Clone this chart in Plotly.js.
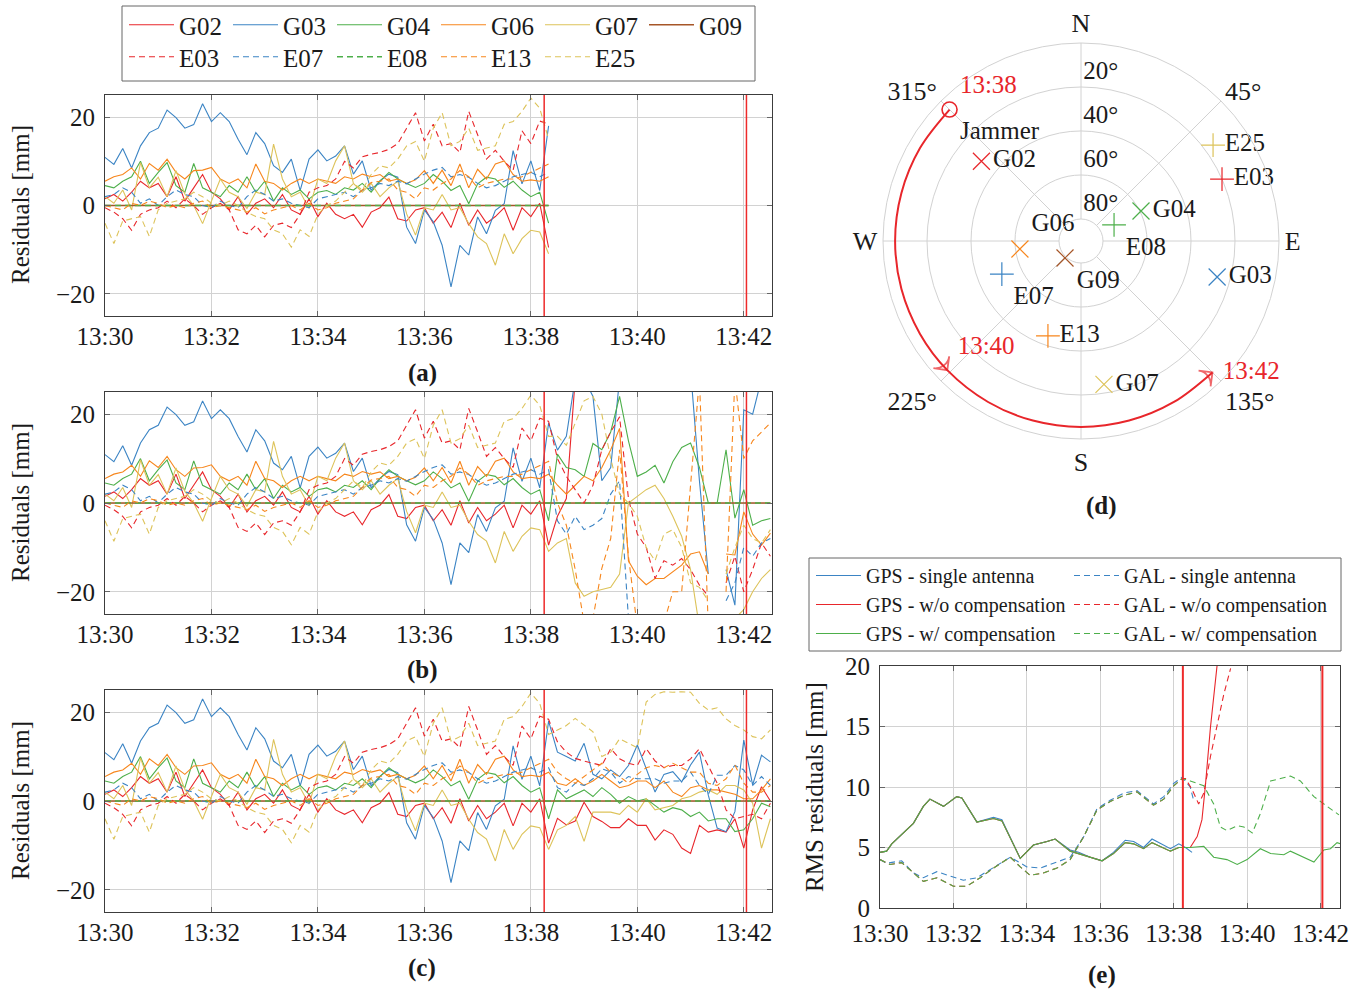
<!DOCTYPE html>
<html><head><meta charset="utf-8">
<script src="https://cdn.plot.ly/plotly-3.0.1.min.js"></script>
<style>html,body{margin:0;padding:0;background:#fff}#chart{width:1369px;height:992px}</style>
</head><body><div id="chart"></div>
<script>
// ---------------- DATA ----------------
const timeTickVals = [0, 2, 4, 6, 8, 10, 12];                 // minutes after 13:30
const timeTickText = ['13:30','13:32','13:34','13:36','13:38','13:40','13:42'];
const jamEvents = [8.25, 12.05];                              // jammer on / off (minutes after 13:30)

const tPreSec  = [0,10,20,30,40,50,60,70,80,90,100,110,120,130,140,150,160,170,180,190,200,210,220,230,240,250,260,270,280,290,300,310,320,330,340,350,360,370,380,390,400,410,420,430,440,450,460,470,480,490,500];
const tPostSec = [510,520,530,540,550,560,570,580,590,600,610,620,630,640,650,660,670,680,690,700,710,720,730,740,750];

const satNames = ['G02','G03','G04','G06','G07','G09','E03','E07','E08','E13','E25'];

// residuals before the jammer (shared by panels a, b, c) [mm]
const preG02 = [1.5,2.5,1.0,3.0,5.5,4.0,5.0,2.0,6.5,1.0,4.0,7.0,3.0,1.5,-1.0,2.0,-2.0,0.5,1.5,-0.5,2.5,-1.0,-2.0,1.5,-2.5,0.5,-2.0,-3.0,-2.0,-4.9,-1.5,-0.5,1.9,-3.0,-3.5,-1.0,-0.5,-4.0,-1.5,-5.0,0.5,-4.5,-1.0,-4.0,-2.5,-0.5,-5.6,-0.5,-2.5,0.5,-9.5];
const preG03 = [10.9,9.3,12.9,8.5,13.5,16.5,17.5,21.6,19.9,17.5,18.3,23.0,19.0,21.0,19.0,15.0,11.5,16.5,14.0,9.0,7.5,10.5,3.4,10.5,12.6,10.1,11.2,13.5,7.1,10.1,3.4,5.6,7.1,6.4,-4.9,-8.6,-1.0,-3.7,-9.0,-18.4,-9.0,-11.2,-2.6,-6.4,-1.1,0.4,12.4,4.9,10.1,3.4,18.0];
const preG04 = [4.5,4.0,5.5,6.5,10.0,5.0,7.5,9.7,4.5,3.0,9.5,4.0,3.0,2.0,4.5,3.0,6.5,3.0,5.5,1.0,4.0,2.5,3.5,1.5,3.0,3.4,2.5,4.0,3.5,5.0,3.0,5.5,7.5,6.0,5.0,4.1,5.0,7.0,5.5,3.4,4.5,0.4,4.9,6.4,6.0,4.1,5.5,3.5,2.0,3.0,-4.0];
const preG06 = [5.5,6.5,7.0,8.5,6.0,9.5,8.0,10.5,7.5,6.0,7.9,8.0,8.6,6.0,5.0,6.0,4.0,9.4,5.5,5.0,3.5,5.0,6.0,5.0,6.0,5.5,5.0,6.5,6.0,7.1,6.5,7.0,5.5,6.0,5.0,5.8,7.9,5.0,8.0,4.5,9.4,4.0,8.2,6.0,9.4,10.1,7.0,5.5,5.8,5.5,6.5];
const preG07 = [2.0,0.5,3.5,-1.0,9.7,4.0,6.4,2.0,7.9,2.6,0.0,-4.1,1.0,6.0,3.0,2.0,-0.7,3.0,2.5,13.9,6.0,2.0,3.0,-0.7,6.0,5.0,10.1,13.5,5.0,3.0,5.0,2.0,4.0,5.5,-1.9,-6.7,-0.5,-1.0,2.5,-1.0,-0.5,-4.1,-7.1,-8.6,-13.5,-6.4,-10.9,-7.5,-5.6,-6.0,-10.9];
const preG09 = [0,0,0,0,0,0,0,0,0,0,0,0,0,0,0,0,0,0,0,0,0,0,0,0,0,0,0,0,0,0,0,0,0,0,0,0,0,0,0,0,0,0,0,0,0,0,0,0,0,0,0];
const preE03 = [-0.5,-1.5,-3.0,-5.6,-2.0,-1.0,-0.5,1.0,-0.5,1.5,0.0,-2.0,-0.5,0.5,-1.0,-5.5,-6.4,-4.5,-7.1,-4.5,-4.0,-5.0,-2.0,3.0,4.0,4.5,6.0,10.0,8.5,11.0,11.6,12.0,12.7,14.0,17.5,21.0,14.6,18.4,13.5,14.0,12.0,21.3,16.0,10.5,12.5,10.0,8.0,16.9,14.0,19.1,18.4];
const preE07 = [2.0,2.5,4.0,3.0,0.5,1.5,0.0,2.0,3.5,2.5,2.0,0.0,-0.5,1.0,0.0,-0.5,2.0,3.5,2.5,1.0,1.5,0.5,0.0,-0.5,1.5,2.0,2.5,3.0,2.0,3.5,4.0,5.0,4.5,5.5,4.9,6.0,7.1,8.0,8.6,6.5,7.0,6.4,5.0,4.0,4.5,5.5,6.5,7.0,7.5,6.5,7.5];
const preE08 = [0,0,0,0,0,0,0,0,0,0,0,0,0,0,0,0,0,0,0,0,0,0,0,0,0,0,0,0,0,0,0,0,0,0,0,0,0,0,0,0,0,0,0,0,0,0,0,0,0,0,0];
const preE13 = [0.0,-0.5,-1.0,0.5,0.0,1.0,0.5,-0.5,0.0,-0.5,0.5,1.0,-0.5,0.0,-0.5,-1.0,-1.5,-0.5,-1.9,-1.0,-0.5,0.0,-1.0,0.5,-1.0,-0.5,0.5,1.0,1.5,3.5,5.2,5.5,6.0,3.5,3.0,1.5,4.0,3.5,5.0,6.0,7.9,6.5,4.0,5.0,5.5,6.0,6.0,6.5,7.5,8.5,9.4];
const preE25 = [-4.0,-8.6,-3.5,-3.0,-2.5,-7.0,-1.0,0.5,1.0,1.5,3.0,2.0,0.5,0.0,1.0,0.0,-1.5,-2.5,-3.0,-5.5,-6.4,-9.4,-5.5,-7.0,-2.0,0.0,1.0,3.0,5.0,3.5,7.0,9.0,8.5,10.5,13.5,14.5,10.0,17.5,21.0,13.5,14.5,17.5,12.5,13.0,13.5,18.4,19.0,21.3,24.3,22.0,15.0];

// (b) without compensation, after jammer on
const bG02 = [-3,1,28,40,40,40,40,40,40,40,40,40,40,40,40,40,40,40,null,40,40,40,40,40,40];
const bG03 = [11.9,15,28,28,24,5,8,28,30,30,30,30,30,30,30,30,5,-16,null,-15,-23,21,20,28,28];
const bG04 = [11,8,7.5,6,13.4,12,16,24,14,6,7,8.5,4.5,9.3,12.5,13.5,8,0,0,12,-3.4,3,-5,-4,-3.5];
const bG06 = [4,2,4,6,5,8,12,16.8,-13,-16.5,-18.4,-17,-17,-15.5,-14,-11.5,-11,-16,null,-11.5,-11.7,-2,-7,-9.5,-6.8];
const bG07 = [-9,-8,-18,-21,-20,-19.5,-19,-16,0,1.5,3,4,1,-3,-7.5,-15,-28,-30,null,-28,-26,-24,-20,-17,-15];
const bG09 = [0,0,0,0,0,0,0,0,0,0,0,0,0,0,0,0,0,0,0,0,0,0,0,0,0];
const bE03 = [10,6,3,0,4,12,16,19.4,1,-7,-10,-17,-13,-14,-12.5,-15,-18.5,-21,null,-18,-12,-20,-15,-9,-12];
const bE07 = [-4,-7,-3,-6,-5,-3.5,2,5,-26,-30,-30,-30,-30,-30,-30,-30,-30,-30,null,-22,-18,-10,-12,-9,-8];
const bE08 = [0,0,0,0,0,0,0,0,0,0,0,0,0,0,0,0,0,0,0,0,0,0,0,0,0];
const bE13 = [0,-5,-15,-27,-26,-14.7,-8,12,-12,-28,-28,-28,-27,-20,-20,5,28,-28,null,-20,28,10,14,16,18];
const bE25 = [15,13,18,23,24,20,10,2,0,-3,-10,-13,-7,-6,-10,-18,-19,-22,null,-16,-10,-5,-8,-9,-6];

// (c) with compensation, after jammer on
const cG02 = [-3.9,-5.4,-4.5,-0.3,-3.5,-4.6,-6,-6,-4,-5.5,-5.5,-8.8,-6.5,-7.5,-10.6,-11.8,-5.5,-7,-6.5,-7,-4,-10.6,-2,3.2,0];
const cG03 = [11,10,9,13,6,5,7,5.5,8,12.6,7.5,2,6,6.6,4.3,8.1,11,1.3,-6.1,-6.9,-2.4,13.7,3.6,10.3,8.8];
const cG04 = [2.5,0.5,1.5,2.5,1,3,1.5,-0.5,1,0,0.5,-1,-2.5,-1.5,-2,-3.5,-2.5,-4.5,-4,-4,-6.9,-6.5,-4,-0.5,-1.3];
const cG06 = [4,3.5,5,3.5,4.5,6,4.5,3,3.5,4.5,4.5,3,4.5,2,1,3,3.5,2.5,2.5,2,1.5,0.5,0.5,2.5,5];
const cG07 = [-6.5,-5.5,-3.5,-9.1,-2.5,-2.5,-2.5,-3,-1,-2.5,0.5,-2,-1.5,-1,0.5,1,2,2.5,1.5,3.5,3.5,2.5,-0.5,-10.6,-4];
const cG09 = [0,0,0,0,0,0,0,0,0,0,0,0,0,0,0,0,0,0,0,0,0,0,0,0,0];
const cE03 = [13.3,11,9.6,9,8.5,8,11.8,9.5,8.5,8,11.8,9,7.5,8,8,9.5,11.8,8,4,-2,-4,-3.5,-3,-4,-0.5];
const cE07 = [3,2,4,3.5,5,7.3,6.5,4,5.5,5,5,5,4,4.5,4.5,6.5,3.5,1.5,5.8,5.8,8,7,3.5,5.5,3.5];
const cE08 = [0,0,0,0,0,0,0,0,0,0,0,0,0,0,0,0,0,0,0,0,0,0,0,0,0];
const cE13 = [6.5,5,4,5.5,7,8.5,6.5,5.5,4,6,7.5,8,7.5,8.5,7.5,6.5,6.5,4,3.5,5,8.1,4,2,2,3.5];
const cE25 = [16,17,18.6,17,15.6,10,11,14,13,12,22.3,24,24.6,24.5,24.6,24.5,22,20.5,21,18.5,17,16,14.5,14,16];

// (d) skyplot: azimuth / elevation [deg]
const satAz = [308.7,104.8,63.4,262.5,170.9,223.3,66.3,247.3,64.1,199.2,54.0];
const satEl = [32,26,59.5,62,24,79.4,20,51,73.3,44.3,15.8];
const jamAz = [315,300,285,270,255,240,226,210,195,180,165,150,135];
const jamEl = [5.5,5.5,5.5,5.5,5.5,5.5,5.5,5.5,5.5,5.5,5.5,5.5,5.5];
const jamLabelIdx = [0, 6, 12];
const jamLabels = ['13:38','13:40','13:42'];
const elevRings = [80, 60, 40, 20];

// (e) RMS residuals [mm], time in minutes after 13:30
const tGpsSingle = [0,0.18,0.32,0.64,0.91,1.18,1.36,1.73,2.09,2.23,2.64,3.09,3.32,3.82,4.18,4.55,4.77,5.18,5.41,5.73,6.05,6.36,6.68,6.91,7.18,7.41,7.64,7.91,8.14,8.32,8.5];
const rmsGpsSingle = [4.6,4.7,5.3,6.2,7.0,8.4,9.0,8.4,9.2,9.1,7.1,7.5,7.3,4.1,5.2,5.5,5.7,4.8,4.6,4.2,3.9,4.6,5.6,5.5,5.0,5.7,5.3,4.9,5.3,5.0,4.6];
const tGpsWo = [0,0.18,0.32,0.64,0.91,1.18,1.36,1.73,2.09,2.23,2.64,3.09,3.32,3.82,4.18,4.55,4.77,5.18,5.41,5.73,6.05,6.36,6.68,6.91,7.18,7.41,7.64,7.91,8.14,8.32,8.45,8.64,8.77,8.86,9.0,9.18,9.3];
const rmsGpsWo = [4.6,4.7,5.3,6.2,7.0,8.4,9.0,8.4,9.2,9.1,7.1,7.4,7.2,4.1,5.2,5.5,5.7,4.7,4.5,4.2,3.9,4.5,5.4,5.3,4.9,5.4,5.1,4.7,5.0,5.0,5.0,5.9,7.3,10.0,14.9,20.0,23.0];
const tGpsW = [0,0.18,0.32,0.64,0.91,1.18,1.36,1.73,2.09,2.23,2.64,3.09,3.32,3.82,4.18,4.55,4.77,5.18,5.41,5.73,6.05,6.36,6.68,6.91,7.18,7.41,7.64,7.91,8.14,8.32,8.45,8.82,9.09,9.45,9.73,10.0,10.36,10.64,11.0,11.18,11.55,11.82,12.09,12.27,12.45,12.55];
const rmsGpsW = [4.6,4.7,5.3,6.2,7.0,8.4,9.0,8.4,9.2,9.1,7.1,7.4,7.2,4.1,5.2,5.5,5.7,4.7,4.5,4.2,3.9,4.5,5.4,5.3,4.9,5.4,5.1,4.7,5.0,5.0,5.0,5.1,4.2,4.0,3.6,4.0,4.9,4.5,4.4,4.7,4.2,3.8,4.8,4.9,5.4,5.3];
const tGalSingle = [0,0.18,0.59,0.91,1.18,1.55,1.95,2.27,2.64,3.0,3.55,4.0,4.36,4.82,5.18,5.55,5.91,6.27,6.64,7.0,7.45,7.73,8.0,8.23,8.45,8.55];
const rmsGalSingle = [4.0,3.7,3.9,2.9,2.5,3.0,2.6,2.3,2.5,3.2,4.2,3.4,3.3,3.8,4.2,5.9,8.2,8.9,9.5,9.7,8.6,9.2,10.3,10.8,10.0,8.8];
const tGalWo = [0,0.27,0.59,0.91,1.18,1.55,2.0,2.36,2.73,3.09,3.55,3.82,4.09,4.45,4.82,5.18,5.55,5.91,6.27,6.64,7.0,7.45,7.73,8.0,8.23,8.32,8.5,8.68,8.82,9.0,9.18,9.36,9.55];
const rmsGalWo = [4.0,3.6,3.75,2.9,2.2,2.5,1.8,1.8,2.5,3.3,4.2,3.4,2.7,2.9,3.3,4.0,5.9,8.1,8.8,9.3,9.6,8.5,9.0,10.1,10.7,10.7,9.8,8.6,9.5,12.5,15.2,17.6,19.8];
const tGalW = [0,0.27,0.59,0.91,1.18,1.55,2.0,2.36,2.73,3.09,3.55,3.82,4.09,4.45,4.82,5.18,5.55,5.91,6.27,6.64,7.0,7.45,7.73,8.0,8.23,8.45,8.82,9.09,9.27,9.45,9.73,9.91,10.14,10.36,10.64,10.91,11.18,11.45,11.82,12.18,12.5];
const rmsGalW = [4.0,3.6,3.75,2.9,2.2,2.5,1.8,1.8,2.5,3.3,4.2,3.4,2.7,2.9,3.3,4.0,5.9,8.1,8.8,9.3,9.6,8.5,9.0,10.1,10.7,10.5,10.1,8.6,6.7,6.4,6.8,6.7,6.2,7.8,10.5,10.7,10.9,10.5,9.2,8.4,7.7];

// ---------------- STYLE ----------------
const W = 1369, H = 992;
const FONT = 'Liberation Serif, Times New Roman, serif';
const px = v => v / W;
const py = v => 1 - v / H;
const RED = '#e8262b', BLUE = '#3b84c4', GREEN = '#4daf4a', ORANGE = '#f7861c', KHAKI = '#ddc35a', BROWN = '#a65628';
const satColors = [RED, BLUE, GREEN, ORANGE, KHAKI, BROWN, RED, BLUE, GREEN, ORANGE, KHAKI];
const DASH = '6px,4px';
const CLEAR = 'rgba(0,0,0,0)';

const preSeries = [preG02,preG03,preG04,preG06,preG07,preG09,preE03,preE07,preE08,preE13,preE25];
const postB = [bG02,bG03,bG04,bG06,bG07,bG09,bE03,bE07,bE08,bE13,bE25];
const postC = [cG02,cG03,cG04,cG06,cG07,cG09,cE03,cE07,cE08,cE13,cE25];

const tPre = tPreSec.map(s => s / 60);
const tAll = tPreSec.concat(tPostSec).map(s => s / 60);

const traces = [];
const panels = [
  {xa: 'x', ya: 'y', x: tPre, ys: preSeries, legend: true},
  {xa: 'x2', ya: 'y2', x: tAll, ys: preSeries.map((p, i) => p.concat(postB[i])), legend: false},
  {xa: 'x3', ya: 'y3', x: tAll, ys: preSeries.map((p, i) => p.concat(postC[i])), legend: false}
];
panels.forEach(p => {
  satNames.forEach((name, i) => {
    const isGal = name[0] === 'E';
    const isRef = name === 'G09' || name === 'E08';
    traces.push({
      type: 'scatter', mode: 'lines', x: p.x, y: p.ys[i], name: name,
      xaxis: p.xa, yaxis: p.ya, connectgaps: false,
      line: {color: satColors[i], width: isRef ? 1.6 : 1.1, dash: isGal ? DASH : 'solid'},
      showlegend: p.legend, legend: isGal ? 'legend2' : 'legend',
      hoverinfo: 'skip'
    });
  });
});

// (e) RMS
const rmsDefs = [
  {x: tGpsSingle, y: rmsGpsSingle, name: 'GPS - single antenna', c: BLUE, d: 'solid', lg: 'legend3'},
  {x: tGpsWo, y: rmsGpsWo, name: 'GPS - w/o compensation', c: RED, d: 'solid', lg: 'legend3'},
  {x: tGpsW, y: rmsGpsW, name: 'GPS - w/ compensation', c: GREEN, d: 'solid', lg: 'legend3'},
  {x: tGalSingle, y: rmsGalSingle, name: 'GAL - single antenna', c: BLUE, d: DASH, lg: 'legend4'},
  {x: tGalWo, y: rmsGalWo, name: 'GAL - w/o compensation', c: RED, d: DASH, lg: 'legend4'},
  {x: tGalW, y: rmsGalW, name: 'GAL - w/ compensation', c: GREEN, d: DASH, lg: 'legend4'}
];
rmsDefs.forEach(r => traces.push({
  type: 'scatter', mode: 'lines', x: r.x, y: r.y, name: r.name, xaxis: 'x4', yaxis: 'y4',
  line: {color: r.c, width: 1.1, dash: r.d}, legend: r.lg, hoverinfo: 'skip'
}));

// (d) skyplot
const satR = satEl.map(e => 90 - e);
const satSymbols = satNames.map(n => n[0] === 'G' ? 'x-thin-open' : 'cross-thin-open');
const satTextPos = ['middle right','middle right','middle right','top right','middle right','bottom right','middle right','bottom right','bottom right','middle right','middle right'];
traces.push({
  type: 'scatterpolar', subplot: 'polar', mode: 'markers+text', r: satR, theta: satAz, text: satNames,
  textposition: satTextPos, textfont: {family: FONT, size: 25, color: '#1a1a1a'}, cliponaxis: false,
  marker: {symbol: satSymbols, size: 17, color: satColors, line: {color: satColors, width: 1.2}},
  showlegend: false, hoverinfo: 'skip'
});
// elevation ring labels, written just above each ring on the north spoke
traces.push({
  type: 'scatterpolar', subplot: 'polar', mode: 'markers+text',
  r: elevRings.map(e => 90 - e), theta: elevRings.map(() => 0), text: elevRings.map(e => e + '°'),
  textposition: 'top right', cliponaxis: false, marker: {size: 2, color: CLEAR},
  textfont: {family: FONT, size: 25, color: '#1a1a1a'}, showlegend: false, hoverinfo: 'skip'
});
const jamR = jamEl.map(e => 90 - e);
const isArrow = jamAz.map((a, i) => jamLabelIdx.indexOf(i) > 0);
traces.push({
  type: 'scatterpolar', subplot: 'polar', mode: 'lines+markers', r: jamR, theta: jamAz,
  line: {color: RED, width: 2, shape: 'spline'}, cliponaxis: false,
  marker: {symbol: 'arrow-wide-open', size: isArrow.map(b => b ? 14 : 0), angleref: 'previous', color: RED, line: {color: RED, width: 1.8}},
  showlegend: false, hoverinfo: 'skip'
});
// jammer position at 13:38 (open circle) + time labels
traces.push({
  type: 'scatterpolar', subplot: 'polar', mode: 'markers+text',
  r: jamLabelIdx.map(i => jamR[i]), theta: jamLabelIdx.map(i => jamAz[i]), text: jamLabels,
  textposition: ['top right', 'top right', 'middle right'], cliponaxis: false,
  marker: {symbol: 'circle-open', size: 15, color: [RED, CLEAR, CLEAR], line: {color: [RED, CLEAR, CLEAR], width: 1.6}},
  textfont: {family: FONT, size: 25, color: RED}, showlegend: false, hoverinfo: 'skip'
});
traces.push({
  type: 'scatterpolar', subplot: 'polar', mode: 'markers+text',
  r: [jamR[0]], theta: [jamAz[0]], text: ['Jammer'], textposition: ['bottom right'], cliponaxis: false,
  marker: {size: 15, color: CLEAR},
  textfont: {family: FONT, size: 25, color: '#1a1a1a'}, showlegend: false, hoverinfo: 'skip'
});

// ---------------- LAYOUT ----------------
const tickFont = {family: FONT, size: 25, color: '#1a1a1a'};
function xAxis(dom, anchor, standoff) {
  return {domain: dom, anchor: anchor, range: [0, 12.53], tickmode: 'array', tickvals: timeTickVals, ticktext: timeTickText,
    showgrid: true, gridcolor: '#d2d2d2', gridwidth: 1, zeroline: false, showline: true, linecolor: '#3c3c3c', linewidth: 1,
    mirror: 'ticks', ticks: 'inside', ticklen: 5, tickcolor: '#666', tickfont: tickFont, ticklabelstandoff: standoff, fixedrange: true};
}
function yAxis(dom, anchor, range, vals) {
  return {domain: dom, anchor: anchor, range: range, tickmode: 'array', tickvals: vals,
    showgrid: true, gridcolor: '#d2d2d2', gridwidth: 1, zeroline: false, showline: true, linecolor: '#3c3c3c', linewidth: 1,
    mirror: 'ticks', ticks: 'inside', ticklen: 5, tickcolor: '#666', tickfont: tickFont, ticklabelstandoff: 4, fixedrange: true};
}
const leftX = [px(105), px(772)];
const shapes = [];
[['x','y'],['x2','y2'],['x3','y3'],['x4','y4']].forEach(([xa, ya]) => {
  jamEvents.forEach(t => shapes.push({type: 'line', xref: xa, yref: ya + ' domain', x0: t, x1: t, y0: 0, y1: 1,
    line: {color: '#ee2a2a', width: xa === 'x4' ? 2 : 1.5}}));
});
shapes.push({type: 'rect', xref: 'paper', yref: 'paper', x0: px(122), x1: px(755), y0: py(81), y1: py(6), line: {color: '#666', width: 1}});
shapes.push({type: 'rect', xref: 'paper', yref: 'paper', x0: px(809), x1: px(1341), y0: py(651), y1: py(558), line: {color: '#666', width: 1}});

const annFont = {family: FONT, size: 25, color: '#1a1a1a'};
const annotations = [
  {text: '<b>(a)</b>', x: px(422), y: py(373)},
  {text: '<b>(b)</b>', x: px(422), y: py(670)},
  {text: '<b>(c)</b>', x: px(422), y: py(968)},
  {text: '<b>(d)</b>', x: px(1101), y: py(506)},
  {text: '<b>(e)</b>', x: px(1102), y: py(975)},
  {text: 'Residuals [mm]', x: px(20), y: py(205), textangle: -90},
  {text: 'Residuals [mm]', x: px(20), y: py(503), textangle: -90},
  {text: 'Residuals [mm]', x: px(20), y: py(801), textangle: -90},
  {text: 'RMS residuals [mm]', x: px(814), y: py(787), textangle: -90}
].map(a => Object.assign({xref: 'paper', yref: 'paper', showarrow: false, font: annFont, xanchor: 'center', yanchor: 'middle'}, a));

const legBase = {font: {family: FONT, size: 25, color: '#1a1a1a'}, bgcolor: 'rgba(0,0,0,0)', borderwidth: 0, itemwidth: 45,
  traceorder: 'normal', itemclick: false, itemdoubleclick: false, xanchor: 'left', yanchor: 'top'};
const layout = {
  width: W, height: H, margin: {l: 0, r: 0, t: 0, b: 0}, paper_bgcolor: '#fff', plot_bgcolor: '#fff',
  font: {family: FONT, color: '#1a1a1a'},
  xaxis: xAxis(leftX, 'y', -2), yaxis: yAxis([py(316), py(95)], 'x', [-25, 25], [-20, 0, 20]),
  xaxis2: xAxis(leftX, 'y2', -2), yaxis2: yAxis([py(614), py(392)], 'x2', [-25, 25], [-20, 0, 20]),
  xaxis3: xAxis(leftX, 'y3', -2), yaxis3: yAxis([py(912), py(690)], 'x3', [-25, 25], [-20, 0, 20]),
  xaxis4: xAxis([px(880), px(1340)], 'y4', 3), yaxis4: yAxis([py(908), py(666)], 'x4', [0, 20], [0, 5, 10, 15, 20]),
  polar: {
    domain: {x: [px(883), px(1279)], y: [py(439), py(43)]}, hole: 1 / 9, bgcolor: '#fff',
    angularaxis: {direction: 'clockwise', rotation: 90, tickmode: 'array', tickvals: [0,45,90,135,180,225,270,315],
      ticktext: ['N','45°','E','135°','S','225°','W','315°'], ticks: '', showline: true, linecolor: '#d2d2d2', linewidth: 1,
      gridcolor: '#d2d2d2', tickfont: {family: FONT, size: 26, color: '#1a1a1a'}},
    radialaxis: {range: [10, 90], tickmode: 'array', tickvals: elevRings.map(e => 90 - e), showticklabels: false, angle: 90,
      showline: false, ticks: '', gridcolor: '#d2d2d2'}
  },
  legend: Object.assign({}, legBase, {orientation: 'h', x: px(124), y: py(2), entrywidth: 44}),
  legend2: Object.assign({}, legBase, {orientation: 'h', x: px(124), y: py(34), entrywidth: 44}),
  legend3: Object.assign({}, legBase, {orientation: 'v', x: px(811), y: py(556), font: {family: FONT, size: 20, color: '#1a1a1a'}}),
  legend4: Object.assign({}, legBase, {orientation: 'v', x: px(1069), y: py(556), font: {family: FONT, size: 20, color: '#1a1a1a'}}),
  shapes: shapes, annotations: annotations, showlegend: true
};
Plotly.newPlot('chart', traces, layout, {staticPlot: true, displayModeBar: false});
</script></body></html>
